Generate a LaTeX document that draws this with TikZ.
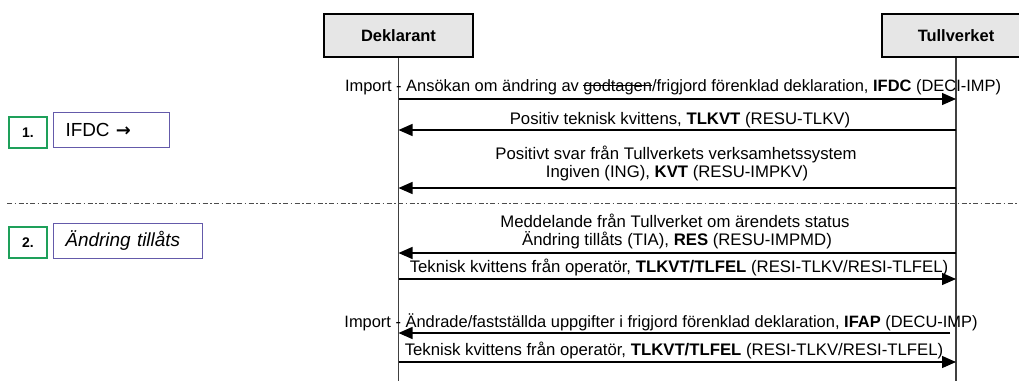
\documentclass[tikz,border=0pt]{standalone}
\usepackage{fontspec}
\setmainfont{Liberation Sans}
\newfontfamily\arrowfont{DejaVu Sans}
\usetikzlibrary{arrows.meta}
\newsavebox\mystrikebox
\newcommand{\mystrike}[1]{\sbox\mystrikebox{#1}\rlap{\rule[0.3em]{\wd\mystrikebox}{0.9pt}}\usebox\mystrikebox}
\definecolor{boxgreen}{RGB}{30,160,90}
\definecolor{boxpurple}{RGB}{100,90,170}
\definecolor{actorfill}{RGB}{230,230,230}
\begin{document}
\begin{tikzpicture}[x=1bp,y=-1bp,
  msg/.style={font=\fontsize{16.8}{19}\selectfont, inner sep=0pt, align=center},
  arr/.style={line width=1.3bp, -{Triangle[length=14bp,width=12bp]}},
  actor/.style={draw, line width=2bp, fill=actorfill, minimum width=149bp, minimum height=43bp, inner sep=0pt, font=\fontsize{16.5}{18}\selectfont\bfseries},
  life/.style={line width=1.5bp, draw=black!75},
  numbox/.style={draw=boxgreen, line width=2bp, minimum width=38bp, minimum height=31bp, inner sep=0pt, font=\fontsize{14}{16}\selectfont\bfseries},
  labbox/.style={draw=boxpurple, line width=1.3bp, minimum height=35bp, inner xsep=12bp, inner ysep=0pt, align=left, font=\fontsize{19}{21}\selectfont},
  sep/.style={line width=1bp, draw=black!70, dash pattern=on 5bp off 2.5bp on 1.5bp off 2.5bp}
]
\useasboundingbox (0,0) rectangle (1019,381);
% actors
\node[actor] (dek) at (398.5,35.5) {Deklarant};
\node[actor] (tull) at (956,35.5) {Tullverket};
\coordinate (dekend) at (398.5,381);
\coordinate (tullend) at (956,381);
\draw[life] (dek.south) -- (dekend);
\draw[life] (tull.south) -- (tullend);
% separator
\coordinate (sepl) at (7,203);
\coordinate (sepr) at (1019,203);
\draw[sep] (sepl) -- (sepr);
% lifeline points
\foreach \i/\y in {1/99,2/130,3/188,4/253,5/279,6/333,7/362}{
  \coordinate (d\i) at (398.5,\y);
  \coordinate (t\i) at (956,\y);
}
% messages
\node[msg, font=\fontsize{16.5}{19}\selectfont] (m1) at (673,87) {Import - Ansökan om ändring av \mystrike{godtagen}/frigjord förenklad deklaration, \textbf{IFDC} (DECI-IMP)};
\draw[arr] (d1) -- (t1);
\node[msg] (m2) at (680,120) {Positiv teknisk kvittens, \textbf{TLKVT} (RESU-TLKV)};
\draw[arr] (t2) -- (d2);
\node[msg] (m3a) at (676,154) {Positivt svar från Tullverkets verksamhetssystem};
\node[msg] (m3b) at (677,173) {Ingiven (ING), \textbf{KVT} (RESU-IMPKV)};
\draw[arr] (t3) -- (d3);
\node[msg] (m4a) at (675,221) {Meddelande från Tullverket om ärendets status};
\node[msg] (m4b) at (677,240) {Ändring tillåts (TIA), \textbf{RES} (RESU-IMPMD)};
\draw[arr] (t4) -- (d4);
\node[msg] (m5) at (679,267) {Teknisk kvittens från operatör, \textbf{TLKVT/TLFEL} (RESI-TLKV/RESI-TLFEL)};
\draw[arr] (d5) -- (t5);
\node[msg, font=\fontsize{16.5}{19}\selectfont] (m6) at (661,322) {Import - Ändrade/fastställda uppgifter i frigjord förenklad deklaration, \textbf{IFAP} (DECU-IMP)};
\coordinate (t6s) at (950,333);
\draw[arr] (t6s) -- (d6);
\node[msg] (m7) at (674,350) {Teknisk kvittens från operatör, \textbf{TLKVT/TLFEL} (RESI-TLKV/RESI-TLFEL)};
\draw[arr] (d7) -- (t7);
% left phase boxes
\node[numbox] (n1) at (28,132.5) {1.};
\node[labbox, text width=92bp] (l1) at (111.5,130) {IFDC {\arrowfont\bfseries\fontsize{18}{20}\selectfont →}};
\node[numbox] (n2) at (28,242.5) {2.};
\node[labbox, text width=125bp] (l2) at (128,241) {\textit{Ändring tillåts}};
\end{tikzpicture}
\end{document}
